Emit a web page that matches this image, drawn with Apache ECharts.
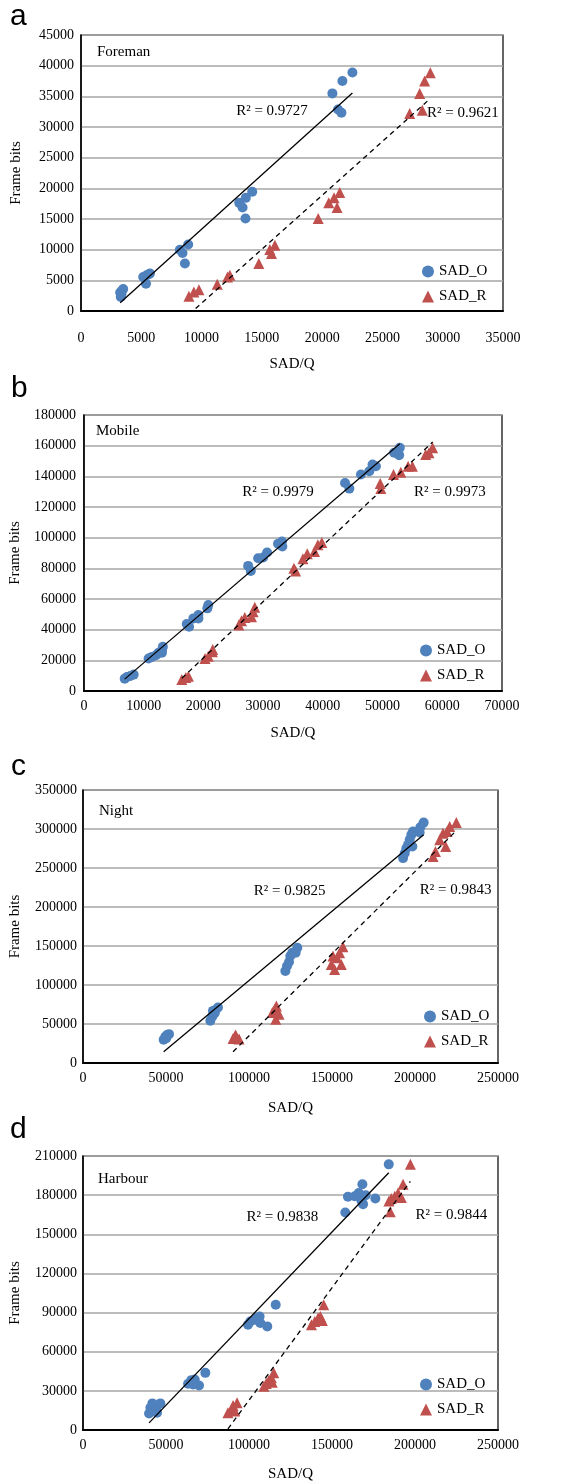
<!DOCTYPE html>
<html>
<head>
<meta charset="utf-8">
<script src="https://cdn.jsdelivr.net/npm/echarts@6/dist/echarts.min.js"></script>
<style>
  html, body { margin: 0; padding: 0; background: #fff; }
  #main { width: 562px; height: 1483px; }
</style>
</head>
<body>
<div id="main"></div>
<script>
// 面板名称与R²文字
var panelNames = ['Foreman', 'Mobile', 'Night', 'Harbour'];
var panelLetters = ['a', 'b', 'c', 'd'];
var r2O = ['R² = 0.9727', 'R² = 0.9979', 'R² = 0.9825', 'R² = 0.9838'];
var r2R = ['R² = 0.9621', 'R² = 0.9973', 'R² = 0.9843', 'R² = 0.9844'];

// 坐标轴范围
var xMax = [35000, 70000, 250000, 250000];
var xStep = [5000, 10000, 50000, 50000];
var yMax = [45000, 180000, 350000, 210000];
var yStep = [5000, 20000, 50000, 30000];

// Foreman
var foremanO = [[3300,2300],[3250,3000],[3400,3300],[3500,3600],[3350,2700],
  [5160,5550],[5440,5820],[5640,6000],[5390,4460],[5720,6100],
  [8200,10000],[8420,9470],[8890,10830],[8620,7730],
  [13120,17630],[13400,16870],[13670,18450],[13640,15070],[14200,19430],
  [20850,35480],[21680,37490],[22510,38900],[21320,32860],[21600,32320]];
var foremanR = [[8950,2400],[9360,3100],[9780,3480],[11300,4350],[12150,5550],[12350,5820],
  [14750,7730],[15660,10010],[15800,9360],[16080,10720],
  [19670,15070],[20550,17630],[20990,18450],[21240,16870],[21460,19320],
  [27260,32210],[28090,35480],[28310,32750],[28500,37490],[28970,38850]];

// Mobile
var mobileO = [[6830,8070],[7220,9160],[7780,9820],[8330,10690],
  [10830,21160],[11390,22250],[12060,23350],[12500,24870],[13060,26620],[13220,28800],[13060,24900],
  [17220,43640],[17610,41890],[18330,47350],[19170,49530],[19170,47350],[20670,53890],[20830,56070],
  [27500,81600],[27940,78330],[29170,86620],[30000,87060],[30670,90330],
  [32500,96000],[33170,97530],[33220,94250],
  [43720,135700],[44440,132000],[46390,141170],[47780,143350],[48330,147710],[48890,146620],
  [51940,155350],[52780,153830],[52890,158630]];
var mobileR = [[16390,7420],[17060,8730],[17500,9600],
  [20280,21160],[20830,22690],[21500,25530],[21560,27060],
  [25940,42980],[26390,45820],[26940,48000],[28060,48440],[28330,51710],[28610,54550],
  [35170,80080],[35440,78330],[36670,86180],[37390,89450],[38610,90980],[39170,95350],[39830,96880],
  [49720,132000],[49610,135270],[51830,141170],[53060,142700],[54280,146620],[55000,146620],
  [57220,154260],[57780,155350],[58390,158630]];

// Night
var nightO = [[48600,29800],[49600,33600],[50600,35800],[51800,37000],[50200,31900],
  [76700,54100],[77900,59600],[79300,63900],[79900,68100],[81300,71100],[78300,66800],
  [121900,117900],[122900,124300],[124100,129400],[124900,137100],[126100,141300],[128100,141300],[129100,147700],
  [192800,262700],[193800,269000],[194800,275400],[195800,279700],[196800,286100],[197800,292500],
  [198800,296700],[198400,277600],[202800,295400],[203200,302200],[205200,308200]];
var nightR = [[90400,31500],[92000,35800],[94000,30700],[91400,34100],
  [114100,64700],[115500,69000],[116500,73200],[116100,56200],[118100,62600],
  [149600,126400],[150600,137100],[151600,120000],[153000,135000],[154600,141300],[155600,126400],[156600,149000],
  [210900,264800],[212300,271200],[214900,286100],[216900,294600],[218500,277600],[219300,296700],
  [220900,303100],[224900,308200]];

// Harbour
var harbourO = [[39800,12700],[40600,17100],[41800,20400],[42600,14500],[44200,15800],[44600,13200],[46600,20400],[43800,18300],
  [63300,35400],[65300,38200],[67300,38700],[69900,34100],[66300,34900],[73700,43800],
  [99400,80700],[100800,83200],[103400,84500],[104800,85800],[106400,87000],[106800,82000],[111000,79400],[116100,96000],
  [158000,166700],[159600,178700],[163700,179200],[166100,181700],[168300,188300],[168700,173100],
  [170300,179900],[176100,177400],[184200,203600],[167700,175800]];
var harbourR = [[87300,13200],[89400,15800],[90400,18800],[91400,14500],[92800,20900],
  [109000,33600],[110400,35600],[112000,38200],[113500,40000],[114900,43800],[114000,36600],
  [137600,80700],[139600,83200],[141600,85800],[143000,87000],[144200,84000],[145000,96000],
  [185100,167200],[184300,175600],[185700,177400],[187800,179200],[189800,181700],[191800,178200],
  [192800,188300],[197200,203600]];

// R²文字位置（数据坐标）
var r2OPos = [[15840,32600],[32500,129800],[124500,220100],[120100,163400]];
var r2RPos = [[31680,32280],[61280,129800],[224500,221400],[221900,164700]];

var dataO = [foremanO, mobileO, nightO, harbourO];
var dataR = [foremanR, mobileR, nightR, harbourR];

// 布局
var grids = [
  {left: 81, top: 35, width: 422, height: 276},
  {left: 82, top: 415, width: 420, height: 276},
  {left: 83, top: 790, width: 415, height: 273},
  {left: 83, top: 1156, width: 415, height: 275}
];
var xLabelMargin = [20, 8, 8, 8];
var xNameGap = [46, 35, 38, 37];
var yLabelMargin = [7, 8, 6, 6];
var yNameGap = [57, 58, 60, 60];
var legendPos = [[417, 259], [415, 638], [419, 1004], [415, 1372]];
var namePos = [[97, 54], [96, 433], [99, 813], [98, 1181]];
var letterPos = [[10, 17], [11, 389], [11, 767], [10, 1130]];

var BLUE = '#4F81BD', RED = '#C0504D';
var SERIF = 'Liberation Serif';

// 线性拟合（趋势线）
function fitLine(pts) {
  var n = pts.length, sx = 0, sy = 0, sxx = 0, sxy = 0;
  var xmin = Infinity, xmax = -Infinity;
  pts.forEach(function (p) {
    sx += p[0]; sy += p[1]; sxx += p[0] * p[0]; sxy += p[0] * p[1];
    xmin = Math.min(xmin, p[0]); xmax = Math.max(xmax, p[0]);
  });
  var b = (n * sxy - sx * sy) / (n * sxx - sx * sx);
  var a = (sy - b * sx) / n;
  return [[xmin, a + b * xmin], [xmax, a + b * xmax]];
}

var textStyle = {fontFamily: SERIF, fontSize: 14, color: '#000', formatter: function (v) { return String(v); }};

var option = {
  animation: false,
  backgroundColor: '#fff',
  grid: grids.map(function (g) {
    return Object.assign({show: true, borderColor: '#000', borderWidth: 1.2, backgroundColor: 'transparent'}, g);
  }),
  xAxis: grids.map(function (g, i) {
    return {
      type: 'value', gridIndex: i, min: 0, max: xMax[i], interval: xStep[i],
      name: 'SAD/Q', nameLocation: 'middle', nameGap: xNameGap[i],
      nameTextStyle: {fontFamily: SERIF, fontSize: 15, color: '#000'},
      axisLine: {show: true, onZero: false, lineStyle: {color: '#000', width: 2}},
      axisTick: {show: false},
      splitLine: {show: false},
      axisLabel: Object.assign({margin: xLabelMargin[i]}, textStyle)
    };
  }),
  yAxis: grids.map(function (g, i) {
    return {
      type: 'value', gridIndex: i, min: 0, max: yMax[i], interval: yStep[i],
      name: 'Frame bits', nameLocation: 'middle', nameGap: yNameGap[i],
      nameTextStyle: {fontFamily: SERIF, fontSize: 15, color: '#000'},
      axisLine: {show: true, onZero: false, lineStyle: {color: '#000', width: 1.5}},
      axisTick: {show: false},
      splitLine: {show: true, lineStyle: {color: '#a6a6a6', width: 1.5}},
      axisLabel: Object.assign({margin: yLabelMargin[i]}, textStyle)
    };
  }),
  legend: legendPos.map(function (p) {
    return {
      left: p[0], top: p[1], orient: 'vertical', itemGap: 10,
      itemWidth: 12, itemHeight: 12,
      textStyle: {fontFamily: SERIF, fontSize: 15, color: '#000'},
      data: [{name: 'SAD_O', icon: 'circle'}, {name: 'SAD_R', icon: 'triangle'}]
    };
  }),
  graphic: [],
  series: []
};

for (var i = 0; i < 4; i++) {
  option.graphic.push({
    type: 'text', left: namePos[i][0], top: namePos[i][1] - 9,
    style: {text: panelNames[i], font: '15px "' + SERIF + '"', fill: '#000'}
  });
  option.graphic.push({
    type: 'text', x: letterPos[i][0], y: letterPos[i][1],
    style: {text: panelLetters[i], font: '30px "Liberation Sans"', fill: '#000', verticalAlign: 'middle'}
  });
  option.series.push({
    name: 'SAD_O', type: 'scatter', xAxisIndex: i, yAxisIndex: i,
    symbol: 'circle', symbolSize: 10, itemStyle: {color: BLUE, opacity: 1},
    data: dataO[i]
  });
  option.series.push({
    name: 'SAD_R', type: 'scatter', xAxisIndex: i, yAxisIndex: i,
    symbol: 'triangle', symbolSize: 11, itemStyle: {color: RED, opacity: 1},
    data: dataR[i]
  });
  option.series.push({
    type: 'line', xAxisIndex: i, yAxisIndex: i, symbol: 'none', silent: true, clip: true,
    lineStyle: {color: '#000', width: 1.3},
    data: fitLine(dataO[i]),
    markPoint: {
      symbol: 'circle', symbolSize: 0,
      label: {show: true, position: 'inside', fontFamily: SERIF, fontSize: 15, color: '#000', formatter: r2O[i]},
      data: [{coord: r2OPos[i]}]
    }
  });
  option.series.push({
    type: 'line', xAxisIndex: i, yAxisIndex: i, symbol: 'none', silent: true, clip: true,
    lineStyle: {color: '#000', width: 1.3, type: [5, 4]},
    data: fitLine(dataR[i]),
    markPoint: {
      symbol: 'circle', symbolSize: 0,
      label: {show: true, position: 'inside', fontFamily: SERIF, fontSize: 15, color: '#000', formatter: r2R[i]},
      data: [{coord: r2RPos[i]}]
    }
  });
}

var chart = echarts.init(document.getElementById('main'), null, {renderer: 'canvas'});
chart.setOption(option);
</script>
</body>
</html>
